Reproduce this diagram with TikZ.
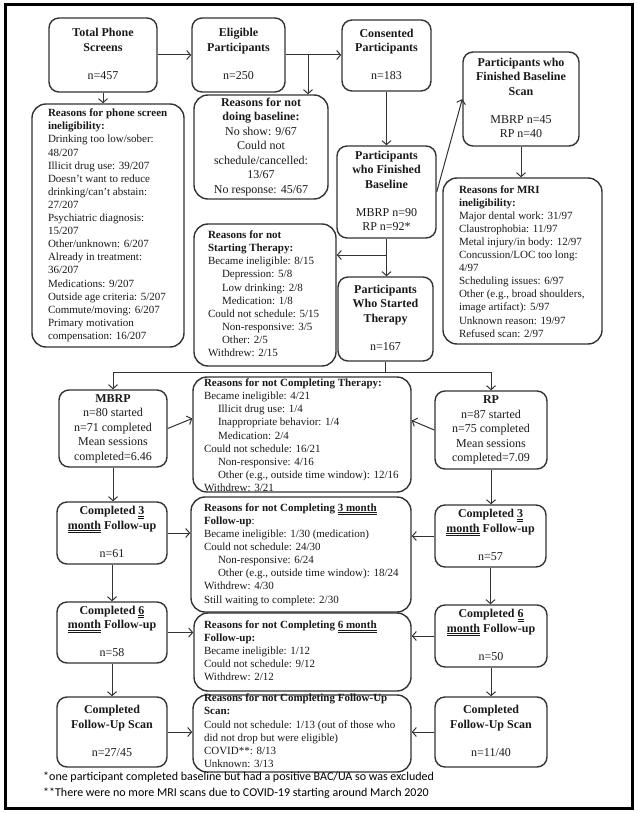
\documentclass[tikz,border=0pt]{standalone}
\usepackage{fontspec}
\setmainfont{Liberation Serif}
\newfontfamily\calib{Carlito}
\usetikzlibrary{arrows.meta}
\newcommand{\dul}[1]{\underline{\underline{#1}}}
\newcommand{\cbx}[2][-2.9]{\smash{\raisebox{#1pt}{\begin{tabular}{@{}c@{}}#2\end{tabular}}}}
\newcommand{\lbx}[3][-2.7]{\smash{\raisebox{#1pt}{\makebox[#2pt][l]{\begin{tabular}{@{}l@{}}#3\end{tabular}}}}}
\newcommand{\ind}{\hspace*{14pt}}
\begin{document}
\begin{tikzpicture}[x=1pt,y=-1pt,
  box/.style={draw=black!80, line width=1.4pt, rounded corners=10pt, inner sep=0pt,
    font=\fontsize{12}{14.5}\selectfont, text=black!90},
  rbox/.style={box, rounded corners=14pt, font=\fontsize{11}{13.1}\selectfont},
  ln/.style={draw=black!80, line width=1pt},
  arr/.style={ln, -{Straight Barb[length=4pt,width=9pt]}}]
\useasboundingbox (0,0) rectangle (637,813);
\draw[line width=3pt] (5,5) rectangle (632,808);

\node[box, minimum width=108pt, minimum height=74pt] (tps) at (103,55)
  {\cbx{\textbf{Total Phone}\\\textbf{Screens}\\[13.5pt]n=457}};
\node[box, minimum width=93pt, minimum height=74pt] (elig) at (238.5,55)
  {\cbx{\textbf{Eligible}\\\textbf{Participants}\\[13.5pt]n=250}};
\node[box, minimum width=89pt, minimum height=71pt] (cons) at (386.5,55.5)
  {\cbx{\textbf{Consented}\\\textbf{Participants}\\[13.5pt]n=183}};
\node[box, rounded corners=14pt, minimum width=134pt, minimum height=104pt] (nobase) at (261,147)
  {\cbx{\textbf{Reasons for not}\\\textbf{doing baseline:}\\No show: 9/67\\Could not\\schedule/cancelled:\\13/67\\No response: 45/67}};
\node[rbox, minimum width=152pt, minimum height=243pt] (phone) at (108,225.5)
  {\lbx{120}{\textbf{Reasons for phone screen}\\\textbf{ineligibility:}\\Drinking too low/sober:\\48/207\\Illicit drug use: 39/207\\Doesn't want to reduce\\drinking/can't abstain:\\27/207\\Psychiatric diagnosis:\\15/207\\Other/unknown: 6/207\\Already in treatment:\\36/207\\Medications: 9/207\\Outside age criteria: 5/207\\Commute/moving: 6/207\\Primary motivation\\compensation: 16/207}};
\node[box, minimum width=99pt, minimum height=92pt] (finb) at (386.5,192)
  {\cbx{\textbf{Participants}\\\textbf{who Finished}\\\textbf{Baseline}\\[13.5pt]MBRP n=90\\RP n=92*}};
\node[box, minimum width=116pt, minimum height=94pt] (scan) at (521,99)
  {\cbx{\textbf{Participants who}\\\textbf{Finished Baseline}\\\textbf{Scan}\\[13.5pt]MBRP n=45\\RP n=40}};
\node[rbox, minimum width=159pt, minimum height=166pt] (mri) at (522.5,261)
  {\lbx[-4.2]{127}{\textbf{Reasons for MRI}\\\textbf{ineligibility:}\\Major dental work: 31/97\\Claustrophobia: 11/97\\Metal injury/in body: 12/97\\Concussion/LOC too long:\\4/97\\Scheduling issues: 6/97\\Other (e.g., broad shoulders,\\image artifact): 5/97\\Unknown reason: 19/97\\Refused scan: 2/97}};
\node[rbox, minimum width=142pt, minimum height=142pt] (nostart) at (265,295)
  {\lbx{114}{\textbf{Reasons for not}\\\textbf{Starting Therapy:}\\Became ineligible: 8/15\\\ind Depression: 5/8\\\ind Low drinking: 2/8\\\ind Medication: 1/8\\Could not schedule: 5/15\\\ind Non-responsive: 3/5\\\ind Other: 2/5\\Withdrew: 2/15}};
\node[box, minimum width=95pt, minimum height=84pt] (started) at (385.5,319)
  {\cbx{\textbf{Participants}\\\textbf{Who Started}\\\textbf{Therapy}\\[13.5pt]n=167}};
\node[box, minimum width=108pt, minimum height=77pt] (mbrp) at (113,428.5)
  {\cbx{\textbf{MBRP}\\n=80 started\\n=71 completed\\Mean sessions\\completed=6.46}};
\node[box, minimum width=112pt, minimum height=78pt] (rp) at (491,430)
  {\cbx{\textbf{RP}\\n=87 started\\n=75 completed\\Mean sessions\\completed=7.09}};
\node[rbox, minimum width=218pt, minimum height=115pt] (nocomp) at (302,434.5)
  {\lbx[-4.7]{196}{\textbf{Reasons for not Completing Therapy:}\\Became ineligible: 4/21\\\ind Illicit drug use: 1/4\\\ind Inappropriate behavior: 1/4\\\ind Medication: 2/4\\Could not schedule: 16/21\\\ind Non-responsive: 4/16\\\ind Other (e.g., outside time window): 12/16\\Withdrew: 3/21}};
\node[box, minimum width=110pt, minimum height=62pt] (m3) at (112,533)
  {\cbx{\textbf{Completed \dul{3}}\\\textbf{\dul{month} Follow-up}\\[13.5pt]n=61}};
\node[box, minimum width=111pt, minimum height=62pt] (r3) at (490.5,536)
  {\cbx{\textbf{Completed \dul{3}}\\\textbf{\dul{month} Follow-up}\\[13.5pt]n=57}};
\node[rbox, minimum width=220pt, minimum height=115pt] (no3) at (301,554.5)
  {\lbx{194}{\textbf{Reasons for not Completing \dul{3 month}}\\\textbf{Follow-up}:\\Became ineligible: 1/30 (medication)\\Could not schedule: 24/30\\\ind Non-responsive: 6/24\\\ind Other (e.g., outside time window): 18/24\\Withdrew: 4/30\\Still waiting to complete: 2/30}};
\node[box, minimum width=110pt, minimum height=61pt] (m6) at (112,632.5)
  {\cbx{\textbf{Completed \dul{6}}\\\textbf{\dul{month} Follow-up}\\[13.5pt]n=58}};
\node[box, minimum width=112pt, minimum height=62pt] (r6) at (491,636)
  {\cbx{\textbf{Completed \dul{6}}\\\textbf{\dul{month} Follow-up}\\[13.5pt]n=50}};
\node[rbox, minimum width=217pt, minimum height=78pt] (no6) at (302.5,652)
  {\lbx{197}{\textbf{Reasons for not Completing \dul{6 month}}\\\textbf{Follow-up:}\\Became ineligible: 1/12\\Could not schedule: 9/12\\Withdrew: 2/12}};
\node[box, minimum width=110pt, minimum height=70pt] (mscan) at (112,732)
  {\cbx{\textbf{Completed}\\\textbf{Follow-Up Scan}\\[13.5pt]n=27/45}};
\node[box, minimum width=112pt, minimum height=70pt] (rscan) at (491,732)
  {\cbx{\textbf{Completed}\\\textbf{Follow-Up Scan}\\[13.5pt]n=11/40}};
\node[rbox, minimum width=218pt, minimum height=77pt] (noscan) at (302,733.5)
  {\lbx[-1.2]{196}{\textbf{Reasons for not Completing Follow-Up}\\\textbf{Scan:}\\Could not schedule: 1/13 (out of those who\\did not drop but were eligible)\\COVID**: 8/13\\Unknown: 3/13}};

\node[anchor=west, inner sep=0pt, align=left, font=\calib\fontsize{12}{16}\selectfont] (foot) at (43,785)
  {*one participant completed baseline but had a positive BAC/UA so was excluded\\**There were no more MRI scans due to COVID-19 starting around March 2020};

% connectors
\coordinate (j1) at (308,55);
\coordinate (j2) at (386.5,255);
\coordinate (jL) at (113,372);
\coordinate (jR) at (491,372);
\draw[arr] (tps.east) -- (elig.west);
\draw[arr] (elig.east) -- (elig.east -| cons.west);
\draw[arr] (j1) -- (j1 |- nobase.north);
\draw[arr] (tps.south) -- (tps.south |- phone.north);
\draw[arr] (cons.south) -- (cons.south |- finb.north);
\draw[arr] (finb.east) -- (scan.west);
\draw[arr] (scan.south) -- (scan.south |- mri.north);
\draw[arr] (finb.south) -- (finb.south |- started.north);
\draw[arr] (j2) -- (j2 -| nostart.east);
\draw[ln] (started.south) -- (started.south |- jL);
\draw[ln] (jL) -- (jR);
\draw[arr] (jL) -- (mbrp.north);
\draw[arr] (jR) -- (rp.north);
\draw[arr] (mbrp.east) -- ([yshift=16pt]nocomp.west);
\draw[arr] (rp.west) -- ([yshift=14pt]nocomp.east);
\draw[arr] (mbrp.south) -- (mbrp.south |- m3.north);
\draw[arr] (rp.south) -- (rp.south |- r3.north);
\draw[arr] (m3.east) -- (m3.east -| no3.west);
\draw[arr] (r3.west) -- (r3.west -| no3.east);
\draw[arr] (m3.south) -- (m3.south |- m6.north);
\draw[arr] (r3.south) -- (r3.south |- r6.north);
\draw[arr] (m6.east) -- (m6.east -| no6.west);
\draw[arr] (r6.west) -- (r6.west -| no6.east);
\draw[arr] (m6.south) -- (m6.south |- mscan.north);
\draw[arr] (r6.south) -- (r6.south |- rscan.north);
\draw[arr] (mscan.east) -- (mscan.east -| noscan.west);
\draw[arr] (rscan.west) -- (rscan.west -| noscan.east);
\end{tikzpicture}
\end{document}
